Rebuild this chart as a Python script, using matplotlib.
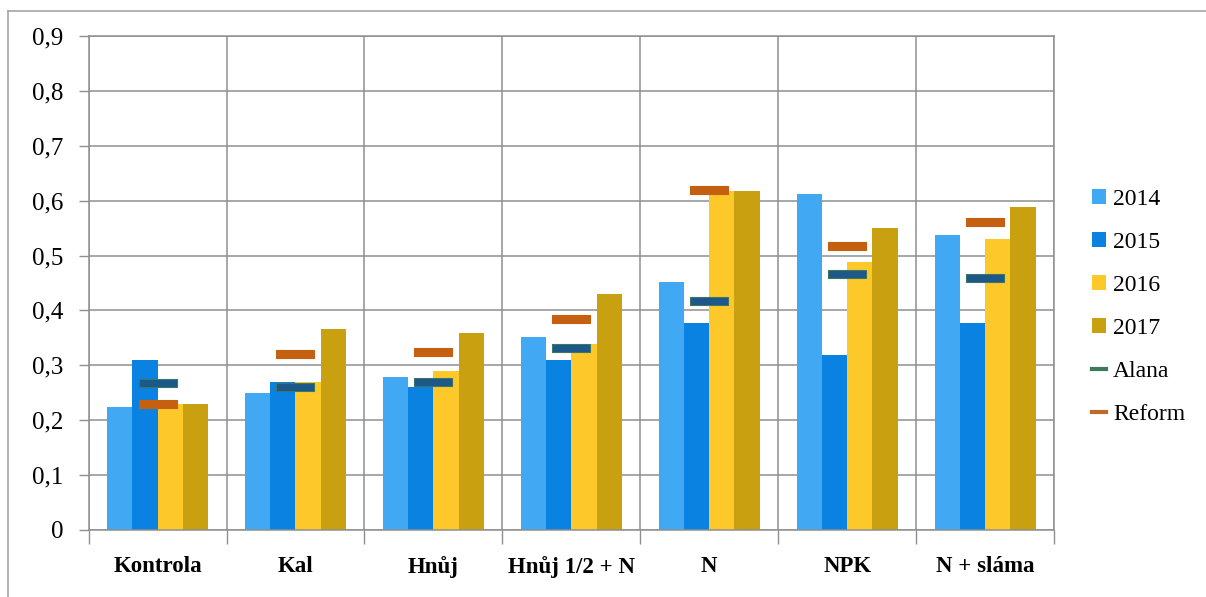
import matplotlib
matplotlib.use("Agg")
import matplotlib.pyplot as plt
import numpy as np
from matplotlib.lines import Line2D
from matplotlib.patches import Patch

plt.rcParams['font.family'] = ['Liberation Serif', 'DejaVu Serif']

# obsah dle variant hnojeni
categories = ['Kontrola', 'Kal', 'Hnůj', 'Hnůj 1/2 + N', 'N', 'NPK', 'N + sláma']
years = ['2014', '2015', '2016', '2017']
v2014 = [0.225, 0.25, 0.278, 0.351, 0.451, 0.612, 0.537]
v2015 = [0.31, 0.27, 0.261, 0.31, 0.378, 0.319, 0.378]
v2016 = [0.229, 0.27, 0.29, 0.339, 0.618, 0.489, 0.53]
v2017 = [0.229, 0.367, 0.359, 0.43, 0.618, 0.55, 0.589]
alana = [0.267, 0.26, 0.27, 0.331, 0.417, 0.466, 0.459]
reform = [0.229, 0.32, 0.325, 0.384, 0.619, 0.518, 0.561]
yticks = [0, 0.1, 0.2, 0.3, 0.4, 0.5, 0.6, 0.7, 0.8, 0.9]
ylabels = ['0', '0,1', '0,2', '0,3', '0,4', '0,5', '0,6', '0,7', '0,8', '0,9']

bar_colors = ['#41a9f3', '#0a82e2', '#fdc92a', '#c9a010']
grid_col = '#8f8f8f'

fig = plt.figure(figsize=(12.06, 5.97), dpi=100)
ax = fig.add_axes([88.6/1206, 67/597, (1054-88.6)/1206, 494/597])

x = np.arange(len(categories))
w = 0.183
for k, vals in enumerate([v2014, v2015, v2016, v2017]):
    ax.bar(x + (k - 1.5)*w, vals, width=w, color=bar_colors[k], zorder=2)

# kratke vodorovne znacky pro odrudy
dash = [(-1, -0.21), (1, -0.21), (1, 0.21), (-1, 0.21), (-1, -0.21)]
ax.plot(x, alana, linestyle='none', marker=dash, markersize=27.4,
        markerfacecolor='#1c5888', markeredgecolor='#3f7565', markeredgewidth=0.8, zorder=3)
ax.plot(x, reform, linestyle='none', marker=dash, markersize=27.4,
        markerfacecolor='#c4600f', markeredgecolor='#c4600f', markeredgewidth=0.8, zorder=3)

ax.set_xlim(-0.5, len(categories) - 0.5)
ax.set_ylim(0, 0.9)
ax.set_yticks(yticks)
ax.set_yticklabels(ylabels)
ax.set_xticks(x)
ax.set_xticklabels(categories, fontweight='bold')
ax.set_xticks(np.arange(len(categories) + 1) - 0.5, minor=True)

ax.tick_params(axis='y', length=7, width=1, color=grid_col, pad=11, labelsize=18)
ax.tick_params(axis='x', which='major', length=0, pad=19, labelsize=16.5)
ax.tick_params(axis='x', which='minor', length=10, width=1, color=grid_col)
ax.grid(axis='y', color=grid_col, linewidth=1.1, zorder=0)
ax.grid(axis='x', which='minor', color=grid_col, linewidth=1.1, zorder=0)
ax.set_axisbelow(True)
for s in ax.spines.values():
    s.set_color(grid_col)
    s.set_linewidth(1.1)

handles = [Patch(facecolor=c, edgecolor='none') for c in bar_colors]
handles.append(Line2D([], [], color='#3f7a58', linewidth=3))
handles.append(Line2D([], [], color='#c06a2a', linewidth=3))
fig.legend(handles, years + ['Alana', 'Reform'], loc='center left',
           bbox_to_anchor=(1092/1206, 1 - 307/597), frameon=False, fontsize=17,
           handlelength=0.6, handleheight=0.6, handletextpad=0.3, labelspacing=0.93,
           borderaxespad=0, borderpad=0)

# ramecek grafu
fig.add_artist(Line2D([8/1206, 8/1206], [0, 1 - 11/597], color='#a6a6a6', linewidth=1.2))
fig.add_artist(Line2D([8/1206, 1], [1 - 11/597, 1 - 11/597], color='#a6a6a6', linewidth=1.2))

fig.savefig('out.png', dpi=100)
